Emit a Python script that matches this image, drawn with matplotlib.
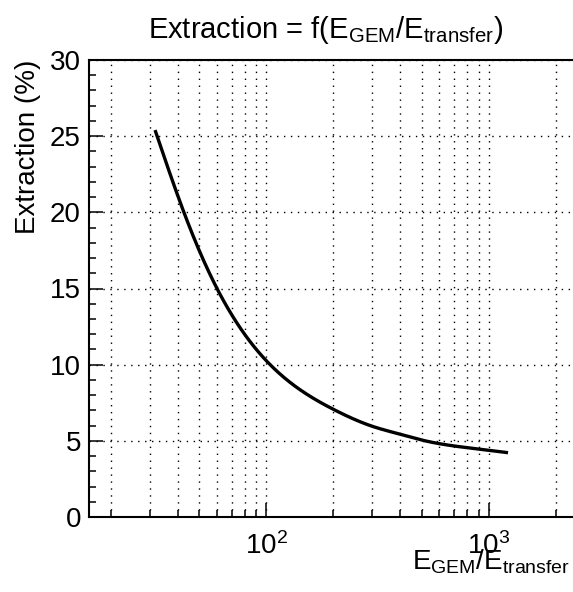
import matplotlib
matplotlib.use("Agg")
import matplotlib.pyplot as plt
from matplotlib.ticker import LogLocator, NullFormatter, MultipleLocator, FixedLocator
import numpy as np

plt.rcParams['font.family'] = ['Liberation Sans', 'DejaVu Sans']
plt.rcParams['mathtext.fontset'] = 'custom'
plt.rcParams['mathtext.rm'] = 'Liberation Sans'
plt.rcParams['mathtext.it'] = 'Liberation Sans'
plt.rcParams['mathtext.default'] = 'regular'

# data
ratio = [31.6, 42.6, 60, 104, 200, 300, 400, 500, 700, 1000, 1220]
extraction = [25.4, 20.0, 15.0, 10.0, 7.07, 5.95, 5.43, 5.05, 4.66, 4.38, 4.22]

title = r"Extraction = f(E$_{GEM}$/E$_{transfer}$)"
ylabel = "Extraction (%)"
xlabel = r"E$_{GEM}$/E$_{transfer}$"


def natural_spline(x, y, xn):
    """Natural cubic spline drawn through the read points."""
    x = np.asarray(x, float); y = np.asarray(y, float)
    n = len(x); h = np.diff(x)
    A = np.zeros((n, n)); r = np.zeros(n)
    A[0, 0] = A[-1, -1] = 1.0
    for i in range(1, n - 1):
        A[i, i-1] = h[i-1]; A[i, i] = 2*(h[i-1] + h[i]); A[i, i+1] = h[i]
        r[i] = 6*((y[i+1]-y[i])/h[i] - (y[i]-y[i-1])/h[i-1])
    M = np.linalg.solve(A, r)
    idx = np.clip(np.searchsorted(x, xn) - 1, 0, n - 2)
    xa, xb, hh = x[idx], x[idx+1], h[idx]
    return (M[idx]*(xb-xn)**3/(6*hh) + M[idx+1]*(xn-xa)**3/(6*hh)
            + (y[idx]/hh - M[idx]*hh/6)*(xb-xn) + (y[idx+1]/hh - M[idx+1]*hh/6)*(xn-xa))


lx = np.log10(ratio)
lxs = np.linspace(lx[0], lx[-1], 400)
ys = natural_spline(lx, extraction, lxs)

W, H = 573, 592
fig = plt.figure(figsize=(W/100, H/100), dpi=100)
left, right, bottom, top = 89.3, 573, 517, 60
ax = fig.add_axes([left/W, (H-bottom)/H, (right-left)/W, (bottom-top)/H])

ax.plot(10**lxs, ys, color='black', lw=2.4, solid_capstyle='butt')

ax.set_xscale('log')
ax.set_xlim(16.0, 2390)
ax.set_ylim(0, 30)

ax.xaxis.set_major_locator(FixedLocator([100, 1000]))
ax.xaxis.set_minor_locator(LogLocator(base=10, subs=np.arange(2, 10), numticks=20))
ax.xaxis.set_minor_formatter(NullFormatter())
ax.yaxis.set_major_locator(MultipleLocator(5))
ax.yaxis.set_minor_locator(MultipleLocator(1))

ax.tick_params(which='both', direction='in', top=False, right=False, labelsize=20, width=1.1, color='black')
ax.tick_params(which='major', length=10)
ax.tick_params(which='minor', length=5.2)
ax.tick_params(axis='y', pad=6)
ax.tick_params(axis='x', pad=11)

ax.grid(which='both', axis='x', color='black', lw=1.0, linestyle=(0, (1, 4)))
ax.grid(which='major', axis='y', color='black', lw=1.0, linestyle=(0, (1, 4)))

for s in ['left', 'bottom', 'top']:
    ax.spines[s].set_linewidth(1.5)
ax.spines['right'].set_visible(False)

fig.text(326/W, 1 - 30/H, title, fontsize=21, ha='center', va='center')
fig.text(28/W, 1 - 60/H, ylabel, fontsize=20, rotation=90, ha='center', va='top')
fig.text(570/W, 1 - 570/H, xlabel, fontsize=20, ha='right', va='baseline')

fig.savefig("out.png", dpi=100)
